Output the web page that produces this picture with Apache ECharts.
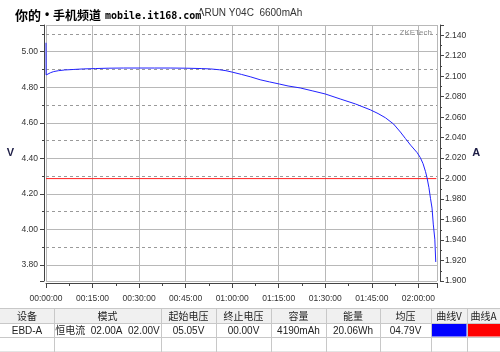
<!DOCTYPE html>
<html>
<head>
<meta charset="utf-8">
<script src="https://cdn.jsdelivr.net/npm/echarts@6/dist/echarts.min.js"></script>
<style>
  html, body { margin: 0; padding: 0; background: #fff; }
  #chart { width: 500px; height: 352px; }
</style>
</head>
<body>
<div id="chart"></div>
<script>
// discharge record, time in minutes from start
var timeMin = [0, 0.05, 0.6, 1.5, 2.5, 4, 6, 9, 12, 16, 20, 25, 30, 35, 40, 45, 50, 53, 56, 58,
  60, 63, 66, 69, 72, 75.2, 78, 81.9, 86, 90, 94.8, 99.7, 104.5, 107, 109.4, 112, 114.2, 115.8,
  117.5, 119.6, 120.6, 121.5, 122.3, 122.8, 123.4, 123.9, 124.4, 124.8, 125.3, 125.6];
var voltV = [5.05, 4.869, 4.875, 4.882, 4.888, 4.893, 4.897, 4.900, 4.903, 4.905, 4.907, 4.908,
  4.908, 4.908, 4.908, 4.907, 4.905, 4.903, 4.898, 4.893, 4.885, 4.872, 4.858, 4.842, 4.830,
  4.818, 4.807, 4.796, 4.779, 4.762, 4.734, 4.706, 4.673, 4.652, 4.628, 4.593, 4.548, 4.512,
  4.474, 4.432, 4.405, 4.37, 4.325, 4.29, 4.235, 4.175, 4.12, 4.03, 3.945, 3.817];
var currTime = [0, 125.8];
var currA = [2.0, 2.0];
var voltDashed = [3.9, 4.1, 4.3, 4.5, 4.7, 4.9, 5.1];

var tableHead = ["设备", "模式", "起始电压", "终止电压", "容量", "能量", "均压", "曲线V", "曲线A"];
var tableRow = ["EBD-A", "恒电流  02.00A  02.00V", "05.05V", "00.00V", "4190mAh", "20.06Wh", "04.79V", "", ""];

// table layout
var colEdges = [0, 54, 161, 216, 271, 326, 380, 431, 467, 500];
var rowEdges = [308, 323, 337, 351.5];

var chart = echarts.init(document.getElementById("chart"));

function pad(n) {
  return n < 10 ? "0" + n : "" + n;
}
function fmtTime(v) {
  if (Math.abs(v % 15) > 1e-6) return "";
  var h = Math.floor(v / 60);
  var m = Math.round(v % 60);
  return pad(h) + ":" + pad(m) + ":00";
}
function onStep(v, step) {
  var k = v / step;
  return Math.abs(k - Math.round(k)) < 1e-6;
}

var font = "Liberation Sans";
var axisColor = "#444";
var gridColor = "#b8b8b8";

var graphics = [];
graphics.push({
  type: "rect", silent: true,
  shape: { x: 0, y: rowEdges[0], width: 500, height: rowEdges[1] - rowEdges[0] },
  style: { fill: "#f0f0f0" }
});
graphics.push({
  type: "rect", silent: true,
  shape: { x: colEdges[7] + 0.5, y: rowEdges[1] + 0.5, width: colEdges[8] - colEdges[7] - 1, height: rowEdges[2] - rowEdges[1] - 1 },
  style: { fill: "#0000ff" }
});
graphics.push({
  type: "rect", silent: true,
  shape: { x: colEdges[8] + 0.5, y: rowEdges[1] + 0.5, width: colEdges[9] - colEdges[8] - 0.5, height: rowEdges[2] - rowEdges[1] - 1 },
  style: { fill: "#ff0000" }
});
rowEdges.forEach(function (y) {
  graphics.push({
    type: "line", silent: true,
    shape: { x1: 0, y1: y + 0.5, x2: 500, y2: y + 0.5 },
    style: { stroke: "#c8c8c8", lineWidth: 1 }
  });
});
for (var i = 1; i < colEdges.length - 1; i++) {
  graphics.push({
    type: "line", silent: true,
    shape: { x1: colEdges[i] + 0.5, y1: rowEdges[0], x2: colEdges[i] + 0.5, y2: 352 },
    style: { stroke: "#c8c8c8", lineWidth: 1 }
  });
}
for (var j = 0; j < tableHead.length; j++) {
  var cx = (colEdges[j] + colEdges[j + 1]) / 2;
  graphics.push({
    type: "text", silent: true,
    style: {
      x: cx, y: (rowEdges[0] + rowEdges[1]) / 2 + 1, text: tableHead[j],
      font: '10px "Noto Sans CJK SC"', fill: "#222",
      textAlign: "center", textVerticalAlign: "middle"
    }
  });
  if (tableRow[j]) {
    graphics.push({
      type: "text", silent: true,
      style: {
        x: cx, y: (rowEdges[1] + rowEdges[2]) / 2 + 1, text: tableRow[j],
        font: '10px "Liberation Sans", "Noto Sans CJK SC"', fill: "#222",
        textAlign: "center", textVerticalAlign: "middle"
      }
    });
  }
}
// watermark, pieces placed one by one
var wmStyle = { fill: "#000", stroke: "#fff", lineWidth: 3, textAlign: "left", textVerticalAlign: "middle" };
[
  { x: 15, y: 15, text: "你的", font: 'bold 13px "Noto Sans CJK SC"' },
  { x: 45, y: 15, text: "•", font: 'bold 12px "Liberation Sans"' },
  { x: 53, y: 15, text: "手机频道", font: 'bold 12px "Noto Sans CJK SC"' },
  { x: 105, y: 16, text: "mobile.it168.com", font: 'bold 10px "DejaVu Sans Mono"' }
].forEach(function (p) {
  graphics.push({
    type: "text", silent: true, z: 100,
    style: Object.assign({}, wmStyle, p)
  });
});
graphics.push({
  type: "text", silent: true,
  style: {
    x: 432, y: 33, text: "ZKETech",
    font: '8px "Liberation Sans"', fill: "#8a8a8a",
    textAlign: "right", textVerticalAlign: "middle"
  }
});

chart.setOption({
  animation: false,
  backgroundColor: "#fff",
  title: {
    text: "ARUN Y04C  6600mAh",
    left: "center",
    top: 3,
    textStyle: { fontFamily: font, fontSize: 10, fontWeight: "normal", color: "#333" }
  },
  grid: { left: 46, right: 63, top: 25, bottom: 71 },
  xAxis: {
    type: "value",
    min: 0,
    max: 126,
    interval: 15,
    offset: 2,
    axisLine: { show: true, onZero: false, lineStyle: { color: axisColor } },
    axisTick: { show: true, length: 5, lineStyle: { color: axisColor } },
    minorTick: { show: true, splitNumber: 2, length: 3, lineStyle: { color: axisColor } },
    axisLabel: { fontFamily: font, fontSize: 8.5, color: "#333", margin: 11, showMaxLabel: false, formatter: fmtTime },
    splitLine: { show: true, lineStyle: { color: gridColor } }
  },
  yAxis: [
    {
      type: "value",
      min: 3.71,
      max: 5.15,
      splitNumber: 7,
      position: "left",
      offset: 2,
      name: "V",
      nameLocation: "middle",
      nameRotate: 0,
      nameGap: 30,
      nameTextStyle: { fontFamily: font, fontSize: 11, fontWeight: "bold", color: "#1c1c44" },
      axisLine: { show: true, onZero: false, lineStyle: { color: axisColor } },
      axisTick: { show: true, length: 4, lineStyle: { color: axisColor } },
      minorTick: { show: true, splitNumber: 2, length: 2, lineStyle: { color: axisColor } },
      axisLabel: {
        fontFamily: font, fontSize: 8.5, color: "#333", margin: 6,
        showMinLabel: false, showMaxLabel: false,
        formatter: function (v) { return onStep(v, 0.2) ? v.toFixed(2) : ""; }
      },
      splitLine: { show: true, lineStyle: { color: gridColor } }
    },
    {
      type: "value",
      min: 1.9,
      max: 2.15,
      splitNumber: 12,
      position: "right",
      offset: 3,
      name: "A",
      nameLocation: "middle",
      nameRotate: 0,
      nameGap: 31,
      nameTextStyle: { fontFamily: font, fontSize: 11, fontWeight: "bold", color: "#1c1c44" },
      axisLine: { show: true, onZero: false, lineStyle: { color: axisColor } },
      axisTick: { show: true, length: 4, lineStyle: { color: axisColor } },
      minorTick: { show: true, splitNumber: 2, length: 2, lineStyle: { color: axisColor } },
      axisLabel: {
        fontFamily: font, fontSize: 8.5, color: "#333", margin: 5,
        showMaxLabel: false,
        formatter: function (v) { return onStep(v, 0.02) ? v.toFixed(3) : ""; }
      },
      splitLine: { show: false }
    }
  ],
  graphic: graphics,
  series: [
    {
      name: "A",
      type: "line",
      yAxisIndex: 1,
      data: currTime.map(function (t, k) { return [t, currA[k]]; }),
      symbol: "none",
      lineStyle: { color: "#ff2020", width: 1 },
      z: 3
    },
    {
      name: "V",
      type: "line",
      yAxisIndex: 0,
      data: timeMin.map(function (t, k) { return [t, voltV[k]]; }),
      symbol: "none",
      smooth: false,
      lineStyle: { color: "#2222ff", width: 1 },
      z: 4,
      markLine: {
        silent: true,
        symbol: ["none", "none"],
        label: { show: false },
        lineStyle: { color: "#9a9a9a", type: [3, 3], width: 1 },
        data: voltDashed.map(function (v) { return { yAxis: v }; }),
        z: 1
      }
    }
  ]
});
</script>
</body>
</html>
